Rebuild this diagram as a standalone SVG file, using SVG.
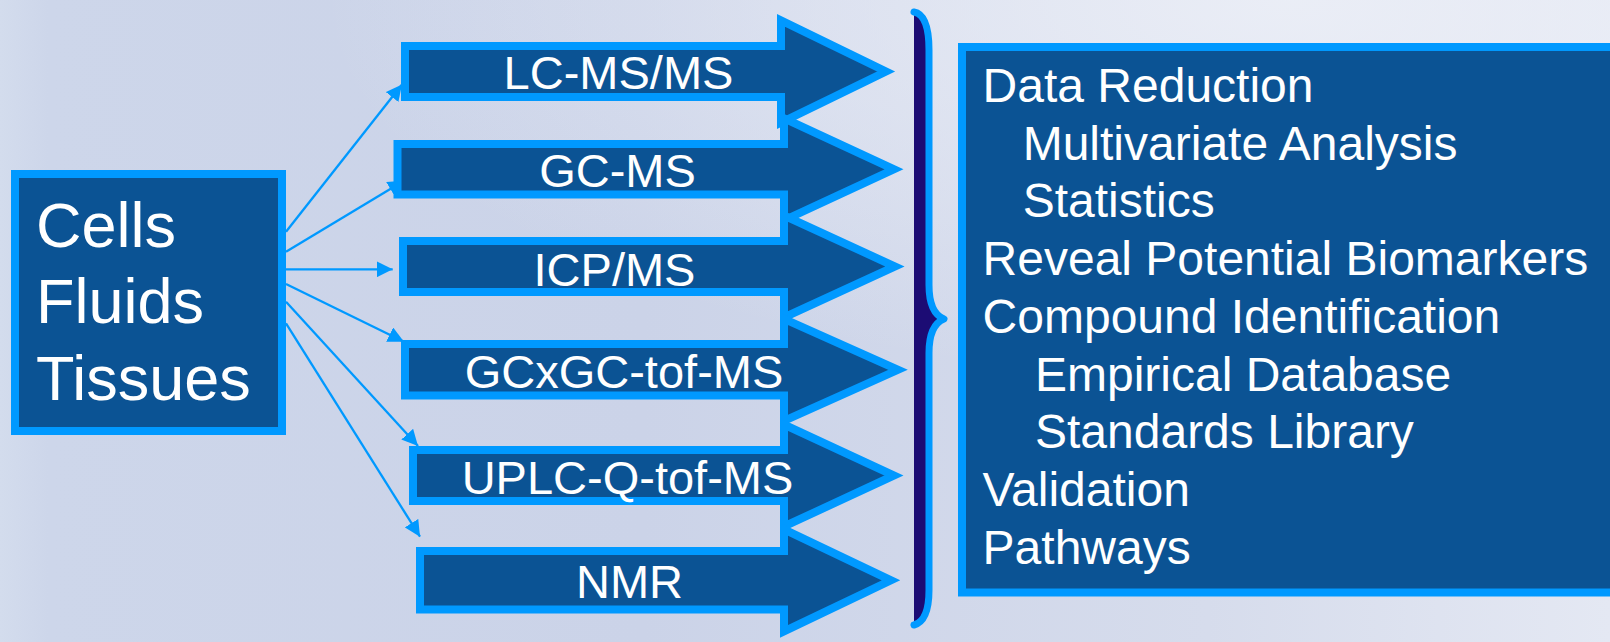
<svg xmlns="http://www.w3.org/2000/svg" width="1610" height="642" viewBox="0 0 1610 642">
<defs>
<linearGradient id="bg" x1="0" y1="0" x2="1" y2="0">
<stop offset="0" stop-color="#d3dced"/>
<stop offset="0.03" stop-color="#cdd6ea"/>
<stop offset="0.4" stop-color="#cbd3e8"/>
<stop offset="0.75" stop-color="#d6dcec"/>
<stop offset="1" stop-color="#e4e8f3"/>
</linearGradient>
<radialGradient id="glow" cx="0.8" cy="0" r="0.6">
<stop offset="0" stop-color="#eceff7" stop-opacity="0.9"/>
<stop offset="1" stop-color="#eceff7" stop-opacity="0"/>
</radialGradient>
<marker id="ah" markerUnits="userSpaceOnUse" markerWidth="16" markerHeight="16" refX="16" refY="8" orient="auto">
<path d="M0,0 L16,8 L0,16 Z" fill="#0099ff"/>
</marker>
<style>
.box{fill:#0b5394;stroke:#0099ff;stroke-width:8;stroke-linejoin:miter}
.arr{fill:#0b5394;stroke:#0099ff;stroke-width:8;stroke-linejoin:miter}
.lbl{font-family:"Liberation Sans",Arial,sans-serif;fill:#ffffff;font-size:47px;text-anchor:middle}
.big{font-family:"Liberation Sans",Arial,sans-serif;fill:#ffffff;font-size:63px}
.lst{font-family:"Liberation Sans",Arial,sans-serif;fill:#ffffff;font-size:48px}
.con{stroke:#0099ff;stroke-width:2.3;fill:none;marker-end:url(#ah)}
</style>
</defs>
<rect x="0" y="0" width="1610" height="642" fill="url(#bg)"/>
<rect x="0" y="0" width="1610" height="642" fill="url(#glow)"/>

<g id="samples">
<rect class="box" x="15" y="174" width="267" height="257"/>
<text class="big" x="36" y="246.5">Cells</text>
<text class="big" x="36" y="323">Fluids</text>
<text class="big" x="36" y="399.5">Tissues</text>
</g>

<g id="connectors">
<line class="con" x1="286" y1="231.7" x2="402" y2="84.5"/>
<line class="con" x1="286" y1="251.7" x2="404" y2="180.7"/>
<line class="con" x1="286" y1="269.3" x2="392.7" y2="269.3"/>
<line class="con" x1="286" y1="284" x2="404" y2="341.7"/>
<line class="con" x1="286" y1="301.7" x2="418" y2="446"/>
<line class="con" x1="286" y1="323.3" x2="420" y2="536.7"/>
</g>

<g id="lcms">
<path class="arr" d="M405,46 L781,46 L781,20.5 L886,71.5 L781,122.5 L781,97 L405,97 Z"/>
<text class="lbl" x="618.5" y="89">LC-MS/MS</text>
</g>
<g id="gcms">
<path class="arr" d="M397.5,144 L784,144 L784,118.3 L894,169.3 L784,220.3 L784,194.5 L397.5,194.5 Z"/>
<text class="lbl" x="617.5" y="187">GC-MS</text>
</g>
<g id="icpms">
<path class="arr" d="M403,241 L784,241 L784,215.5 L895,266.5 L784,317.5 L784,292 L403,292 Z"/>
<text class="lbl" x="614.5" y="286">ICP/MS</text>
</g>
<g id="gcxgc">
<path class="arr" d="M405,344 L784,344 L784,318.8 L898,369.8 L784,420.8 L784,395.5 L405,395.5 Z"/>
<text class="lbl" x="624" y="388">GCxGC-tof-MS</text>
</g>
<g id="uplc">
<path class="arr" d="M413,450 L784,450 L784,424.5 L894,475.5 L784,526.5 L784,501 L413,501 Z"/>
<text class="lbl" x="627.5" y="494">UPLC-Q-tof-MS</text>
</g>
<g id="nmr">
<path class="arr" d="M420,551 L784,551 L784,529.3 L891,580.3 L784,631.3 L784,609.5 L420,609.5 Z"/>
<text class="lbl" x="629.5" y="598">NMR</text>
</g>

<g id="brace">
<path d="M914,12 C925,14 929,30 929,50 L929,285 C929,305 934,315 944,319 C934,323 929,333 929,353 L929,590 C929,610 925,622 914,625 Z" fill="#1c0c74"/>
<path d="M914,12 C925,14 929,30 929,50 L929,285 C929,305 934,315 944,319 C934,323 929,333 929,353 L929,590 C929,610 925,622 914,625" fill="none" stroke="#0099ff" stroke-width="7" stroke-linejoin="round" stroke-linecap="round"/>
</g>

<g id="analysis">
<rect class="box" x="962" y="47" width="700" height="545.5"/>
<text class="lst" x="982.6" y="102">Data Reduction</text>
<text class="lst" x="1022.7" y="159.7">Multivariate Analysis</text>
<text class="lst" x="1022.7" y="217.4">Statistics</text>
<text class="lst" x="982.6" y="275.1">Reveal Potential Biomarkers</text>
<text class="lst" x="982.6" y="332.8">Compound Identification</text>
<text class="lst" x="1035" y="390.5">Empirical Database</text>
<text class="lst" x="1035" y="448.2">Standards Library</text>
<text class="lst" x="982.6" y="505.9">Validation</text>
<text class="lst" x="982.6" y="563.6">Pathways</text>
</g>
</svg>
